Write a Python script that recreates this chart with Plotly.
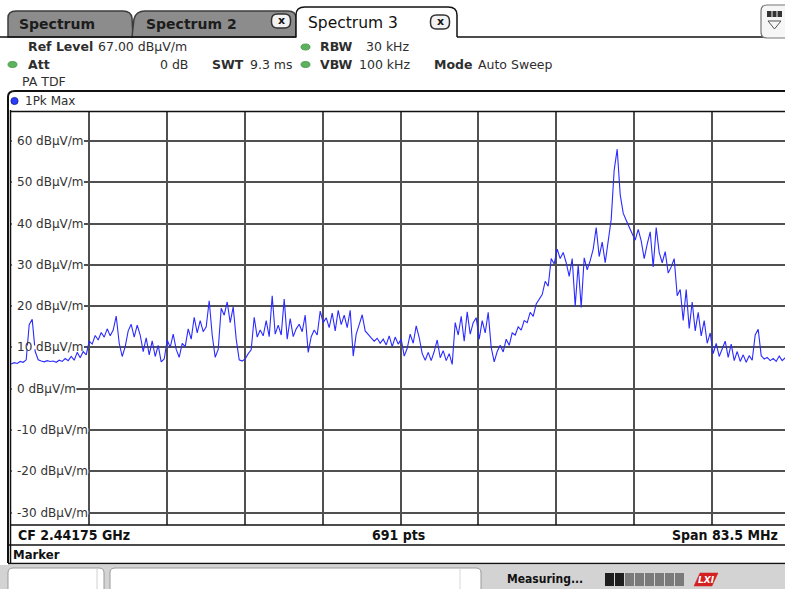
import numpy as np
import plotly.graph_objects as go

# ---------------- data ----------------
CF_GHZ = 2.44175
SPAN_MHZ = 83.5
SWEEP_POINTS = 691
REF_LEVEL = 67.0
Y_BOTTOM = -33.0
Y_TICKS = [60, 50, 40, 30, 20, 10, 0, -10, -20, -30]
Y_TICK_LABELS = [f"{v} dBµV/m" for v in Y_TICKS]

# trace level (dBµV/m), sampled evenly across the visible part of the sweep
LEVELS = [
    6.0, 6.3, 6.1, 6.6, 6.4, 7.0, 15.5, 16.8, 9.0, 7.0,
    6.7, 6.5, 6.8, 6.6, 6.7, 6.4, 6.9, 6.6, 7.3, 6.8,
    7.8, 6.9, 8.8, 7.5, 9.0, 8.2, 11.5, 10.8, 12.9, 11.8,
    13.6, 12.5, 14.5, 12.8, 14.2, 17.6, 11.0, 7.8, 10.2, 14.0,
    15.6, 12.5, 15.4, 13.0, 9.0, 12.3, 8.2, 11.6, 7.8, 10.5,
    6.5, 7.2, 11.8, 10.0, 13.2, 9.5, 7.6, 11.0, 10.2, 14.5,
    12.0, 17.3, 13.5, 16.5, 13.8, 15.0, 21.3, 13.0, 7.6, 9.5,
    19.5, 17.8, 21.0, 16.0, 19.8, 12.0, 7.0, 6.7, 7.2, 8.5,
    9.4, 17.3, 12.5, 14.2, 12.8, 16.5, 12.6, 22.5, 13.2, 15.4,
    13.0, 21.7, 12.0, 17.0, 12.6, 14.5, 15.6, 13.8, 17.8, 8.8,
    12.6, 14.2, 13.0, 18.8, 16.0, 17.2, 14.8, 18.3, 14.0, 19.0,
    15.5, 17.8, 14.8, 19.0, 7.9, 13.2, 15.5, 17.9, 14.0, 13.0,
    12.3, 11.5, 12.2, 11.0, 12.0, 10.6, 12.8, 10.2, 12.5, 10.8,
    12.0, 7.9, 9.8, 13.2, 11.0, 15.2, 12.4, 8.5, 6.9, 8.8,
    6.8, 9.0, 11.8, 7.5, 9.2, 6.8, 8.5, 5.9, 16.0, 13.0,
    17.5, 11.5, 18.6, 13.2, 16.0, 17.2, 12.0, 16.5, 13.5, 18.5,
    10.0, 6.5, 9.0, 10.5, 8.9, 12.0, 10.5, 13.5, 13.0, 15.0,
    14.2, 16.5, 16.0, 18.5, 17.5, 20.5, 21.5, 22.8, 26.0, 24.8,
    31.5, 30.2, 33.8, 31.5, 33.0, 30.5, 27.2, 31.5, 20.0, 30.0,
    19.7, 31.7, 28.8, 31.0, 33.8, 39.0, 32.0, 35.5, 30.5, 36.5,
    41.0, 53.0, 58.0, 47.0, 42.5, 40.8, 39.0, 37.5, 36.0, 38.6,
    35.8, 31.5, 35.0, 38.0, 29.5, 39.0, 33.0, 30.5, 33.2, 28.0,
    29.5, 31.5, 22.5, 24.0, 16.5, 24.0, 14.6, 21.0, 14.0, 18.5,
    12.8, 16.5, 11.0, 13.5, 8.5, 11.0, 7.8, 9.5, 11.5, 7.6,
    10.8, 6.8, 9.0, 6.6, 8.2, 6.4, 8.0, 6.9, 13.0, 14.4,
    8.0, 7.2, 7.6, 6.8, 7.3, 6.6, 7.9, 6.8, 7.5,
]

# ---------------- geometry ----------------
W, H = 785, 589
L, R, T, B = 11, 0, 112, 64
PW, PH = W - L - R, H - T - B
FULL_GRID_PX = 779.0          # full 10-division width (right part is cut off in the shot)

F_START = CF_GHZ * 1000 - SPAN_MHZ / 2
MHZ_PER_PX = SPAN_MHZ / FULL_GRID_PX
X_END = F_START + PW * MHZ_PER_PX

freqs = np.linspace(F_START + 0.2 * MHZ_PER_PX, F_START + 774.2 * MHZ_PER_PX, len(LEVELS))


def X(px):
    return (px - L) / PW


def Y(py):
    return (H - B - py) / PH


def path(cmds):
    out = []
    for c in cmds:
        op = c[0]
        if op == 'Z':
            out.append('Z')
            continue
        vals = c[1:]
        pts = []
        for i in range(0, len(vals), 2):
            pts.append(f"{X(vals[i]):.5f},{Y(vals[i + 1]):.5f}")
        out.append(op + ' ' + ' '.join(pts))
    return ' '.join(out)


shapes = []
annotations = []


def add_rect(x0, y0, x1, y1, fill, lc=None, lw=0, layer='above'):
    shapes.append(dict(type='rect', xref='paper', yref='paper', x0=X(x0), x1=X(x1), y0=Y(y1), y1=Y(y0),
                       fillcolor=fill, line=dict(color=lc or fill, width=lw), layer=layer))


def add_line(x0, y0, x1, y1, color='#000', width=1.5):
    shapes.append(dict(type='line', xref='paper', yref='paper', x0=X(x0), x1=X(x1), y0=Y(y0), y1=Y(y1),
                       line=dict(color=color, width=width), layer='above'))


def add_path(cmds, fill=None, lc='#000', lw=1.5):
    d = dict(type='path', xref='paper', yref='paper', path=path(cmds), line=dict(color=lc, width=lw),
             layer='above')
    if fill:
        d['fillcolor'] = fill
    shapes.append(d)


def add_ellipse(cx, cy, rx, ry, fill, lc=None, lw=0.8):
    shapes.append(dict(type='circle', xref='paper', yref='paper', x0=X(cx - rx), x1=X(cx + rx),
                       y0=Y(cy + ry), y1=Y(cy - ry), fillcolor=fill,
                       line=dict(color=lc or fill, width=lw), layer='above'))


def rrect(x0, y0, x1, y1, r):
    return [('M', x0 + r, y0), ('L', x1 - r, y0), ('Q', x1, y0, x1, y0 + r), ('L', x1, y1 - r),
            ('Q', x1, y1, x1 - r, y1), ('L', x0 + r, y1), ('Q', x0, y1, x0, y1 - r), ('L', x0, y0 + r),
            ('Q', x0, y0, x0 + r, y0), ('Z',)]


FONT = 'DejaVu Sans, Verdana, sans-serif'
COND = 'DejaVu Sans Condensed, Liberation Sans Narrow, DejaVu Sans, sans-serif'


def ann(px, py, text, size=12, color='#2e2e2e', anchor='left', family=FONT):
    annotations.append(dict(xref='paper', yref='paper', x=X(px), y=Y(py), text=text, showarrow=False,
                            xanchor=anchor, yanchor='middle', font=dict(family=family, size=size, color=color)))


# ---------------- tabs ----------------
add_path([('M', 8, 37), ('L', 8, 18), ('Q', 8, 11, 16, 11), ('L', 123, 11), ('Q', 131, 11, 132, 18),
          ('L', 133, 37), ('Z',)], fill='#8c8c8c', lc='#3c3c3c', lw=1.5)
add_path([('M', 132, 37), ('L', 134, 19), ('Q', 136, 11, 145, 11), ('L', 288, 11), ('Q', 296, 11, 296, 18),
          ('L', 296, 37), ('Z',)], fill='#8c8c8c', lc='#3c3c3c', lw=1.5)
add_path([('M', 296, 37), ('L', 296, 15), ('Q', 296, 7, 305, 7), ('L', 448, 7), ('Q', 457, 7, 457, 15),
          ('L', 457, 37), ('Z',)], fill='#ffffff', lc='#ffffff', lw=0)
add_path([('M', 296, 37), ('L', 296, 15), ('Q', 296, 7, 305, 7), ('L', 448, 7), ('Q', 457, 7, 457, 15),
          ('L', 457, 37)], lc='#111111', lw=1.5)
add_line(0, 37, 296, 37, '#111111', 1.5)
add_line(457, 37, 785, 37, '#111111', 1.5)
ann(17, 23.5, '<b>Spectrum</b>', 14, '#1c1c1c')
ann(144, 23.5, '<b>Spectrum 2</b>', 14, '#1c1c1c')
ann(306, 22.5, 'Spectrum 3', 15.5, '#111111')
for cx, cy in [(281, 21), (440, 22)]:
    add_path(rrect(cx - 9.5, cy - 7, cx + 9.5, cy + 7, 6), fill='#f2f2f2', lc='#333333', lw=1.5)
    ann(cx, cy, '<b>x</b>', 11, '#111111', 'center')

# top-right icon
add_path(rrect(761, 5, 792, 38, 6), fill='#f6f6f6', lc='#777777', lw=1.2)
add_rect(767, 11, 782, 17, '#333333')
add_line(772, 11, 772, 17, '#f6f6f6', 1)
add_line(777, 11, 777, 17, '#f6f6f6', 1)
add_path([('M', 768, 21), ('L', 781, 21), ('L', 774.5, 29), ('Z',)], lc='#555555', lw=1)

# ---------------- setting rows ----------------
ann(26, 47, '<b>Ref Level</b>', 12.5)
ann(96, 47, '67.00 dBµV/m', 12.5)
add_ellipse(12.5, 64.5, 4.5, 3, '#5db35d', '#3f8f3f')
ann(26, 65, '<b>Att</b>', 12.5)
ann(190, 65, '0 dB', 12.5, anchor='right')
ann(210, 65, '<b>SWT</b>', 12.5)
ann(248, 65, '9.3 ms', 12.5)
add_ellipse(305.5, 47, 4.5, 3, '#5db35d', '#3f8f3f')
add_ellipse(305.5, 64.5, 4.5, 3, '#5db35d', '#3f8f3f')
ann(318, 47, '<b>RBW</b>', 12.5)
ann(412, 47, '30 kHz', 12.5, anchor='right')
ann(318, 65, '<b>VBW</b>', 12.5)
ann(412, 65, '100 kHz', 12.5, anchor='right')
ann(432, 65, '<b>Mode</b>', 12.5)
ann(476, 65, 'Auto Sweep', 12.5)
ann(20, 82, 'PA TDF', 12.5)

# ---------------- trace window frame ----------------
add_path([('M', 8, 563), ('L', 8, 97), ('Q', 8, 91, 15, 91), ('L', 785, 91)], lc='#111111', lw=2)
add_line(10.5, 110, 10.5, 563, '#111111', 1.5)
add_line(10, 111.5, 785, 111.5, '#111111', 1.5)
add_line(10, 525, 785, 525, '#111111', 1.5)
add_line(8, 545, 785, 545, '#111111', 1.5)
add_line(8, 563.5, 785, 563.5, '#111111', 1.5)
add_ellipse(14.5, 101, 3.6, 3.6, '#2a3cff', '#101a80')
ann(23, 101, '1Pk Max', 12)

# bottom info rows
ann(16, 535, '<b>CF 2.44175 GHz</b>', 14, '#111111', family=COND)
ann(398, 535, '<b>691 pts</b>', 14, '#111111', 'center', family=COND)
ann(780, 535, '<b>Span 83.5 MHz</b>', 14, '#111111', 'right', family=COND)
ann(11, 554.5, '<b>Marker</b>', 13, '#111111', family=COND)

# ---------------- status bar ----------------
add_rect(0, 565, 785, 589, '#d3d3d3')
add_path(rrect(8, 568, 104, 596, 5), fill='#ffffff', lc='#9a9a9a', lw=1)
add_line(97, 569, 97, 589, '#d0d0d0', 1)
add_path(rrect(110, 568, 481, 596, 5), fill='#ffffff', lc='#9a9a9a', lw=1)
add_line(460, 569, 460, 589, '#d8d8d8', 1)
ann(505, 579, '<b>Measuring...</b>', 12, '#111111', family=COND)
for i in range(8):
    x0 = 605 + i * 10
    add_rect(x0, 573, x0 + 9, 586, '#1e1e1e' if i < 2 else '#7a7a7a')
add_path([('M', 694, 586), ('L', 700, 573), ('L', 718, 573), ('L', 712, 586), ('Z',)], fill='#d42020',
         lc='#d42020', lw=0.5)
ann(706, 579.5, '<b><i>LXI</i></b>', 9, '#ffffff', 'center')

# ---------------- y tick labels (white gaps in the grid under each label) ----------------
CW = {'0': .636, '1': .636, '2': .636, '3': .636, '4': .636, '5': .636, '6': .636, '7': .636, '8': .636,
      '9': .636, ' ': .318, 'd': .635, 'B': .686, 'µ': .636, 'V': .684, '/': .337, 'm': .974, '-': .361}
LABEL_PX = 16
for v, lab in zip(Y_TICKS, Y_TICK_LABELS):
    wpx = sum(CW.get(c, .6) for c in lab) * 12
    shapes.append(dict(type='rect', xref='paper', yref='y', x0=X(11.8), x1=X(LABEL_PX + wpx + 1.5),
                       y0=v - 0.45, y1=v + 0.45, fillcolor='#ffffff', line=dict(width=0), layer='above'))
    annotations.append(dict(xref='paper', yref='y', x=X(LABEL_PX), y=v, text=lab, showarrow=False,
                            xanchor='left', yanchor='middle', xshift=-1.5,
                            font=dict(family=FONT, size=12, color='#333333')))

fig = go.Figure()
fig.add_trace(go.Scatter(x=freqs, y=LEVELS, mode='lines', line=dict(color='#2b2bff', width=1.1),
                         hoverinfo='skip'))

fig.update_layout(
    width=W, height=H, margin=dict(l=L, r=R, t=T, b=B, autoexpand=False),
    paper_bgcolor='#ffffff', plot_bgcolor='#ffffff', showlegend=False,
    xaxis=dict(range=[F_START, X_END], tick0=F_START, dtick=SPAN_MHZ / 10, showgrid=True,
               gridcolor='#505050', gridwidth=1.5, zeroline=False, showline=False, showticklabels=False,
               ticks='', fixedrange=True),
    yaxis=dict(range=[Y_BOTTOM, REF_LEVEL], tick0=0, dtick=10, showgrid=True, gridcolor='#505050',
               gridwidth=1.5, zeroline=False, showline=False, showticklabels=False, ticks='',
               fixedrange=True),
    shapes=shapes, annotations=annotations,
)
fig.write_html('out.html', config={'displayModeBar': False},
               post_script="document.body.style.margin='0';document.body.style.padding='0';"
                           "document.documentElement.style.overflow='hidden';")
